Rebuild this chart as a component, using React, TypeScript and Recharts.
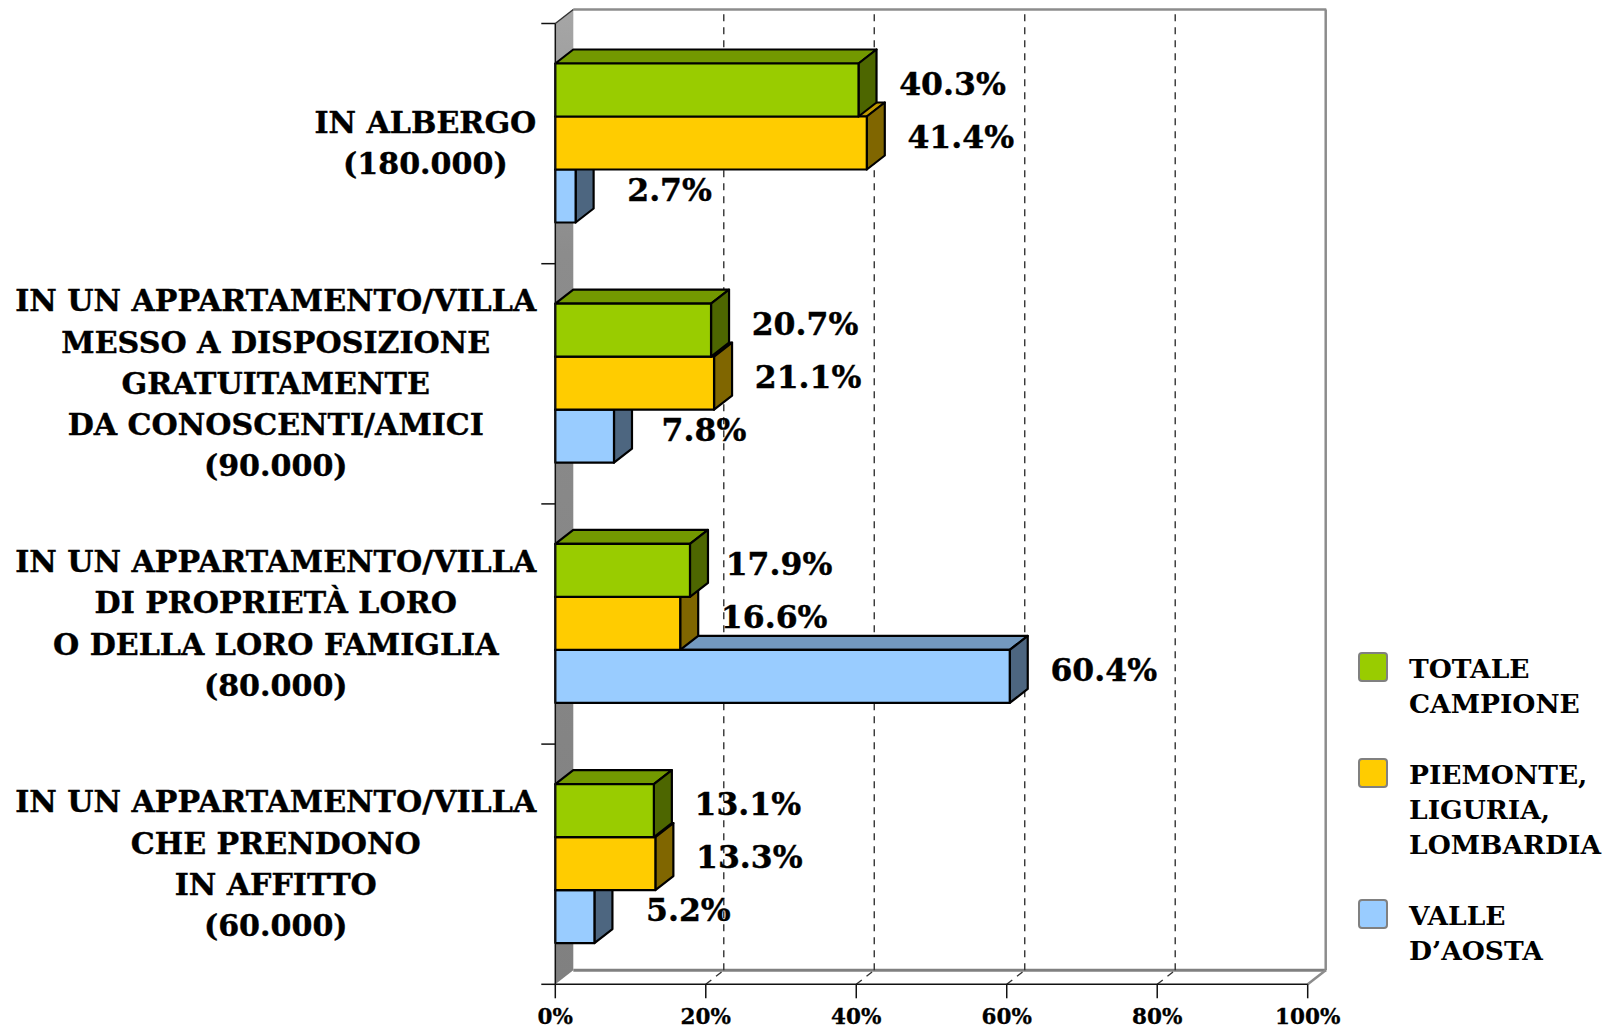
import React from "react";
import { BarChart, Bar, XAxis, YAxis, CartesianGrid, LabelList, Legend } from "recharts";

const categoryLines: string[][] = [
  ["IN ALBERGO", "(180.000)"],
  ["IN UN APPARTAMENTO/VILLA", "MESSO A DISPOSIZIONE", "GRATUITAMENTE", "DA CONOSCENTI/AMICI", "(90.000)"],
  ["IN UN APPARTAMENTO/VILLA", "DI PROPRIETÀ LORO", "O DELLA LORO FAMIGLIA", "(80.000)"],
  ["IN UN APPARTAMENTO/VILLA", "CHE PRENDONO", "IN AFFITTO", "(60.000)"],
];
const categories = categoryLines.map((l) => l.join("\n"));
const totale = [40.3, 20.7, 17.9, 13.1];
const piemonte = [41.4, 21.1, 16.6, 13.3];
const valle = [2.7, 7.8, 60.4, 5.2];
const xTicks = [0, 20, 40, 60, 80, 100];

const data = categories.map((c, i) => ({ c, totale: totale[i], piemonte: piemonte[i], valle: valle[i] }));

const FONT = "'DejaVu Serif'";
const DX = 18;
const DY = 14;

const measure = (() => {
  let ctx: CanvasRenderingContext2D | null = null;
  return (s: string, size: number) => {
    if (!ctx) ctx = document.createElement("canvas").getContext("2d");
    ctx!.font = `bold ${size}px ${FONT}`;
    return ctx!.measureText(s).width;
  };
})();

const CATEGORY_SIZE = 30.1;
const CategoryTick = (p: any) => {
  const lines = String(p.payload.value).split("\n");
  const w = Math.max(...lines.map((l) => measure(l, CATEGORY_SIZE)));
  const cx = p.x - 19 - w / 2;
  const lh = 41.2;
  const top = p.y - 0.5 - ((lines.length - 1) * lh) / 2;
  return (
    <text x={cx} textAnchor="middle" fontFamily={FONT} fontWeight="bold" fontSize={CATEGORY_SIZE} fill="#000" stroke="#000" strokeWidth={0.4}>
      {lines.map((l, i) => (
        <tspan key={i} x={cx} y={top + i * lh} dominantBaseline="central">{l}</tspan>
      ))}
    </text>
  );
};

const PctTick = (p: any) => (
  <text x={p.x} y={p.y + 24} textAnchor="middle" fontFamily={FONT} fontWeight="bold" fontSize={21.5} fill="#000" stroke="#000" strokeWidth={0.3}>
    {p.payload.value}%
  </text>
);

const gridLine = (p: any) => {
  const { x1, y1, y2, index } = p;
  const isFirst = index === 0;
  const isLast = x1 > 1200;
  const n = categories.length;
  return (
    <g key={`g${index}`}>
      {isFirst && (
        <g>
          <defs>
            <linearGradient id="wallGrad" x1="0" y1="0" x2="0" y2="1">
              <stop offset="0" stopColor="#a6a6a6" />
              <stop offset="0.25" stopColor="#8c8c8c" />
              <stop offset="1" stopColor="#808080" />
            </linearGradient>
          </defs>
          <polygon
            points={`${x1},${y2} ${x1 + DX},${y2 - DY} ${x1 + DX},${y1 - DY} ${x1},${y1}`}
            fill="url(#wallGrad)"
          />
          <line x1={x1 + DX} x2={x1 + 771} y1={y1 - DY} y2={y1 - DY} stroke="#8c8c8c" strokeWidth={2.5} />
          <line x1={x1 + DX} x2={x1 + 771} y1={y2 - DY} y2={y2 - DY} stroke="#808080" strokeWidth={3} />
          <line x1={x1} x2={x1 + DX} y1={y1} y2={y1 - DY} stroke="#333" strokeWidth={1.5} />
          {Array.from({ length: n + 1 }, (_, k) => {
            const yy = y1 + ((y2 - y1) * k) / n;
            return <line key={k} x1={x1 - 14} x2={x1} y1={yy} y2={yy} stroke="#111" strokeWidth={1.5} />;
          })}
        </g>
      )}
      {isLast && (
        <g>
          <line x1={x1 + DX} x2={x1 + DX} y1={y1 - DY} y2={y2 - DY} stroke="#8c8c8c" strokeWidth={2.5} />
          <line x1={x1} x2={x1 + DX} y1={y2} y2={y2 - DY} stroke="#8c8c8c" strokeWidth={2.5} />
        </g>
      )}
      {!isFirst && !isLast && (
        <g stroke="#333" strokeWidth={1.4} strokeDasharray="7 6">
          <line x1={x1 + DX} x2={x1 + DX} y1={y2 - DY} y2={y1 - DY} />
          <line x1={x1} x2={x1 + DX} y1={y2} y2={y2 - DY} />
        </g>
      )}
    </g>
  );
};

// The three series are painted bottom slot first so that upper bars cover the
// top faces of the lower ones; slot shifts put each back in its visual place.
const barShape = (slot: number, front: string, top: string, side: string) => (p: any) => {
  const { x, width, height } = p;
  const y = p.y + slot * height;
  const r = x + width;
  const b = y + height;
  return (
    <g stroke="#000" strokeWidth={2.2} strokeLinejoin="round">
      <polygon points={`${x},${y} ${x + DX},${y - DY} ${r + DX},${y - DY} ${r},${y}`} fill={top} />
      <polygon points={`${r},${y} ${r + DX},${y - DY} ${r + DX},${b - DY} ${r},${b}`} fill={side} />
      <rect x={x} y={y} width={width} height={height} fill={front} />
    </g>
  );
};

const labelNudge = (v: number) => (v === 7.8 ? -4 : v === 17.9 ? -5 : 0);

const valueLabel = (slot: number) => (p: any) => {
  const { x, y, width, height, value } = p;
  return (
    <text
      x={x + width + 94 + labelNudge(value)}
      y={y + slot * height + height / 2 - 7}
      textAnchor="middle"
      dominantBaseline="central"
      fontFamily={FONT}
      fontWeight="bold"
      fontSize={31.5}
      fill="#000"
      stroke="#000"
      strokeWidth={0.4}
    >
      {value.toFixed(1)}%
    </text>
  );
};

const LegendBlock = (p: any) => {
  const items = [...(p.payload || [])].reverse();
  return (
    <div style={{ fontFamily: FONT, fontWeight: "bold", fontSize: 26.5, lineHeight: "35px", color: "#000" }}>
      {items.map((it: any) => (
        <div key={it.value} style={{ position: "relative", paddingLeft: 51, marginBottom: 36, whiteSpace: "pre" }}>
          <span
            style={{
              position: "absolute",
              left: 0,
              top: 1,
              width: 25.5,
              height: 25.5,
              background: it.color,
              border: "2.5px solid #808080",
              borderRadius: 4,
            }}
          />
          {it.value}
        </div>
      ))}
    </div>
  );
};

export default function App() {
  return (
    <div style={{ position: "absolute", left: 0, top: 0, width: 1613, height: 1029 }}>
      <BarChart
        width={1613}
        height={1029}
        data={data}
        layout="vertical"
        margin={{ top: 23.5, right: 55.3, bottom: 0, left: 0 }}
        barCategoryGap={40}
        barGap={0}
      >
        <CartesianGrid horizontal={false} vertical={gridLine} />
        <XAxis
          type="number"
          domain={[0, 100]}
          ticks={xTicks}
          interval={0}
          height={44.7}
          tick={PctTick}
          tickSize={14}
          stroke="#111"
          strokeWidth={1.5}
        />
        <YAxis
          type="category"
          dataKey="c"
          width={555.3}
          tick={CategoryTick}
          tickLine={false}
          tickSize={0}
          tickMargin={0}
          interval={0}
          stroke="#111"
          strokeWidth={1.5}
        />
        <Legend
          layout="horizontal"
          verticalAlign="middle"
          align="right"
          itemSorter={null}
          content={LegendBlock}
          wrapperStyle={{ position: "absolute", left: 1358, top: 651, width: 250, height: 330, right: "auto", bottom: "auto" }}
        />
        <Bar dataKey="valle" name={"VALLE\nD’AOSTA"} fill="#99CCFF" isAnimationActive={false} shape={barShape(2, "#99CCFF", "#7399BF", "#4D6680")}>
          <LabelList dataKey="valle" content={valueLabel(2)} />
        </Bar>
        <Bar dataKey="piemonte" name={"PIEMONTE,\nLIGURIA,\nLOMBARDIA"} fill="#FFCC00" isAnimationActive={false} shape={barShape(0, "#FFCC00", "#BF9900", "#806600")}>
          <LabelList dataKey="piemonte" content={valueLabel(0)} />
        </Bar>
        <Bar dataKey="totale" name={"TOTALE\nCAMPIONE"} fill="#99CC00" isAnimationActive={false} shape={barShape(-2, "#99CC00", "#739900", "#4D6600")}>
          <LabelList dataKey="totale" content={valueLabel(-2)} />
        </Bar>
      </BarChart>
    </div>
  );
}
